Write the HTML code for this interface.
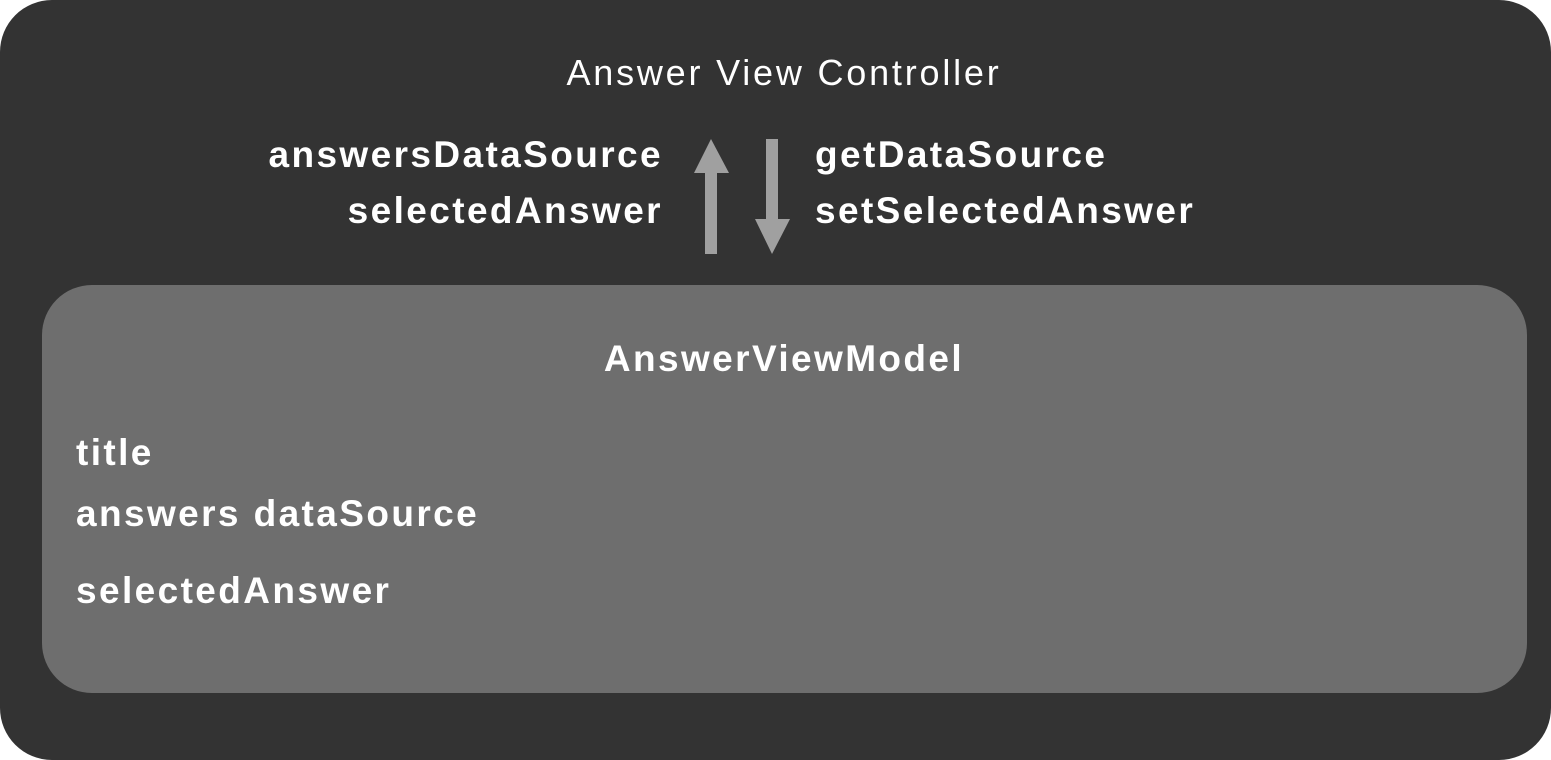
<!DOCTYPE html>
<html><head><style>
body{margin:0;width:1551px;height:760px;background:#fff;overflow:hidden;font-family:"Liberation Sans",sans-serif;}
.outer{position:absolute;left:0;top:0;width:1551px;height:760px;background:#333;border-radius:52px;}
.inner{position:absolute;left:42px;top:285px;width:1485px;height:408px;background:#6e6e6e;border-radius:50px;}
.t{position:absolute;color:#fff;white-space:nowrap;font-size:37px;line-height:1;}
.b{font-weight:bold;letter-spacing:2.4px;}
</style></head><body>
<div class="outer"></div>
<div class="inner"></div>
<div class="t" style="left:0;width:1568px;text-align:center;top:55px;font-size:36px;letter-spacing:2.8px;">Answer View Controller</div>
<div class="t b" style="right:888px;top:127px;text-align:right;line-height:56px;">answersDataSource<br>selectedAnswer</div>
<div class="t b" style="left:815px;top:127px;line-height:56px;">getDataSource<br>setSelectedAnswer</div>
<svg style="position:absolute;left:0;top:0" width="1551" height="760">
<polygon points="711,139 729,173 717,173 717,254 705,254 705,173 694,173" fill="#a0a0a0"/>
<polygon points="766,139 778,139 778,219 790,219 772,254 755,219 766,219" fill="#a0a0a0"/>
</svg>
<div class="t b" style="left:0;width:1568px;text-align:center;top:340px;">AnswerViewModel</div>
<div class="t b" style="left:76px;top:434px;">title</div>
<div class="t b" style="left:76px;top:495px;">answers dataSource</div>
<div class="t b" style="left:76px;top:572px;">selectedAnswer</div>
</body></html>
